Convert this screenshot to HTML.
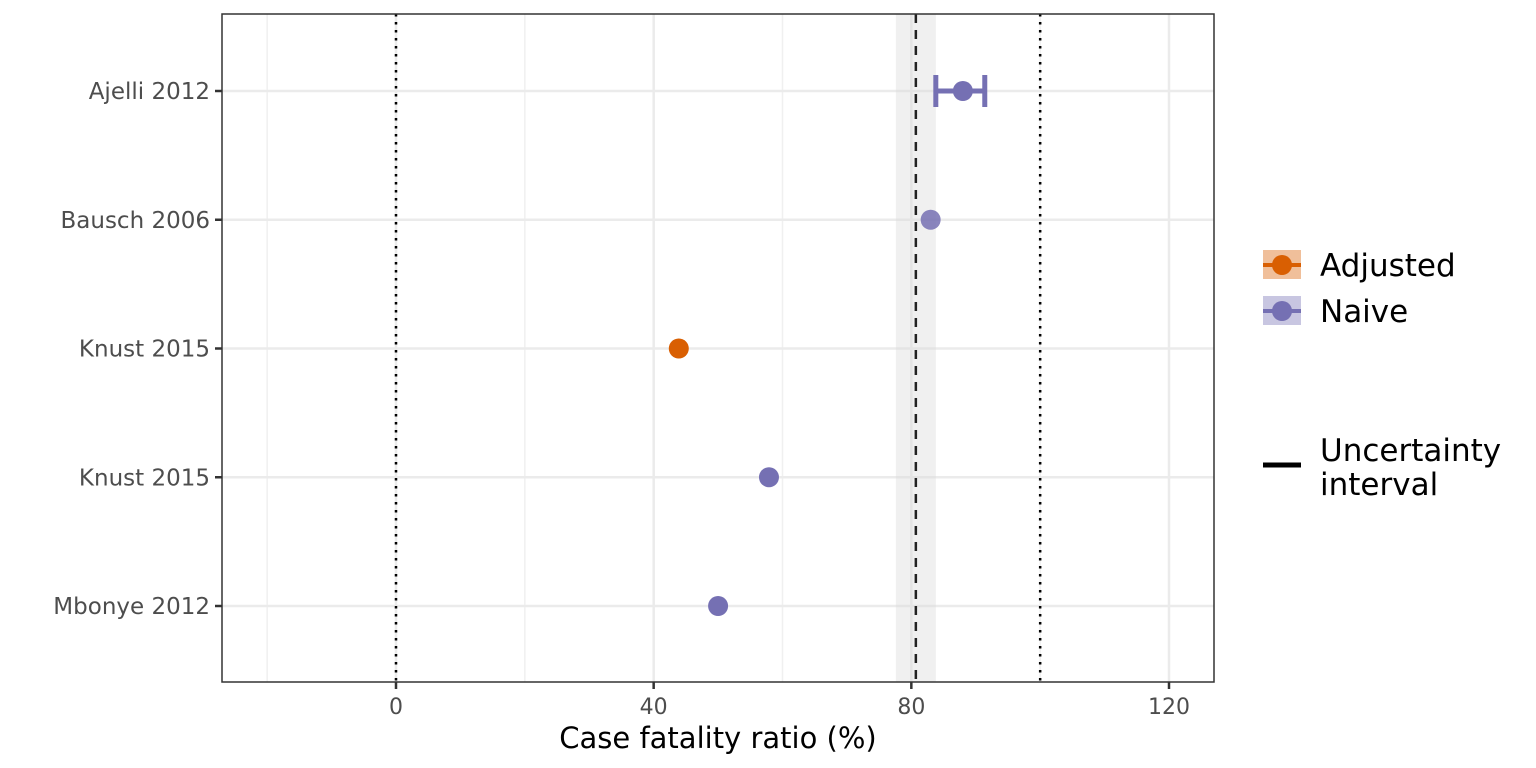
<!DOCTYPE html>
<html><head><meta charset="utf-8"><style>
body{margin:0;background:#fff}
svg{display:block;font-family:"DejaVu Sans","Liberation Sans",sans-serif}
</style></head><body>
<svg id="chart" width="1536" height="768" viewBox="0 0 1536 768"></svg>
<script>
const categories=["Ajelli 2012","Bausch 2006","Knust 2015","Knust 2015","Mbonye 2012"];
const values=[88.0,83.0,43.9,57.9,50.0];
const groups=["Naive","Naive","Adjusted","Naive","Naive"];
const ciLow=[83.8,null,null,null,null];
const ciHigh=[91.4,null,null,null,null];
const alphas=[1,0.85,1,1,1];
const xTicks=[0,40,80,120];
const xMinor=[-20,20,60,100];
const pooled=[80.7];
const pooledBand=[77.6,83.8];
const refLines=[0,100];

const NS="http://www.w3.org/2000/svg";
const svg=document.getElementById("chart");
const L=222,R=1214,T=14,B=682;
const x=v=>396+v*(1169-396)/120;
const rowY=[91,220,348,477,606];
const y=i=>rowY[0]+i*(rowY[4]-rowY[0])/4;
const colors={Adjusted:"#d95f02",Naive:"#7570b3"};
function el(tag,attrs,parent){const e=document.createElementNS(NS,tag);for(const k in attrs)e.setAttribute(k,attrs[k]);(parent||svg).appendChild(e);return e;}

xMinor.forEach(v=>{const l=el("line",{x1:x(v),x2:x(v),y1:T,y2:B,stroke:"#f0f0f0","stroke-width":1.5});

});
xTicks.forEach(v=>{const l=el("line",{x1:x(v),x2:x(v),y1:T,y2:B,stroke:"#ebebeb","stroke-width":2.5});

});
categories.forEach((c,i)=>{const l=el("line",{x1:L,x2:R,y1:y(i),y2:y(i),stroke:"#ebebeb","stroke-width":2.5});

});

const band=el("rect",{x:x(pooledBand[0]),y:T,width:x(pooledBand[1])-x(pooledBand[0]),height:B-T,fill:"#d9d9d9","fill-opacity":0.4});


const pl=el("line",{x1:x(pooled[0]),x2:x(pooled[0]),y1:T,y2:B,stroke:"#222","stroke-width":2.5,"stroke-dasharray":"9,7"});


refLines.forEach(v=>{const l=el("line",{x1:x(v),x2:x(v),y1:T,y2:B,stroke:"#000","stroke-width":2.5,"stroke-dasharray":"2.5,5.5"});

});

categories.forEach((c,i)=>{
  const col=colors[groups[i]];
  if(ciLow[i]!=null){
    const g=el("g",{stroke:col,"stroke-width":5});
    
    
    el("line",{x1:x(ciLow[i]),x2:x(ciHigh[i]),y1:y(i),y2:y(i)},g);
    el("line",{x1:x(ciLow[i]),x2:x(ciLow[i]),y1:y(i)-16,y2:y(i)+16},g);
    el("line",{x1:x(ciHigh[i]),x2:x(ciHigh[i]),y1:y(i)-16,y2:y(i)+16},g);
  }
  const p=el("circle",{cx:x(values[i]),cy:y(i),r:10,fill:col,"fill-opacity":alphas[i]});
  
  
  const t=el("text",{x:L-12,y:y(i)+8,"text-anchor":"end","font-size":23,fill:"#4d4d4d"});
  t.textContent=c;
  
  
  const tk=el("line",{x1:L-7,x2:L,y1:y(i),y2:y(i),stroke:"#333","stroke-width":2.5});
  
  
});

const frame=el("rect",{x:L,y:T,width:R-L,height:B-T,fill:"none",stroke:"#333","stroke-width":1.5});



xTicks.forEach(v=>{
  const tk=el("line",{x1:x(v),x2:x(v),y1:B,y2:B+7,stroke:"#333","stroke-width":2.5});
  
  
  const t=el("text",{x:x(v),y:B+32,"text-anchor":"middle","font-size":22,fill:"#4d4d4d"});
  t.textContent=v;
  
  
});
const xt=el("text",{x:(L+R)/2,y:748,"text-anchor":"middle","font-size":29,fill:"#000"});
xt.textContent="Case fatality ratio (%)";



[["Adjusted",265],["Naive",311]].forEach(([n,cy])=>{
  const g=el("g",{});
  
  
  el("rect",{x:1263,y:cy-15,width:38,height:29,fill:colors[n],"fill-opacity":0.4},g);
  el("line",{x1:1263,x2:1301,y1:cy,y2:cy,stroke:colors[n],"stroke-width":4},g);
  el("circle",{cx:1282,cy:cy,r:10,fill:colors[n]},g);
  const t=el("text",{x:1320,y:cy+11,"font-size":31,fill:"#000"},g);t.textContent=n;
});
const ug=el("g",{});


el("line",{x1:1263,x2:1301,y1:465,y2:465,stroke:"#000","stroke-width":5},ug);
const u1=el("text",{x:1320,y:461,"font-size":31,fill:"#000"},ug);u1.textContent="Uncertainty";
const u2=el("text",{x:1320,y:495,"font-size":31,fill:"#000"},ug);u2.textContent="interval";
</script>
</body></html>
